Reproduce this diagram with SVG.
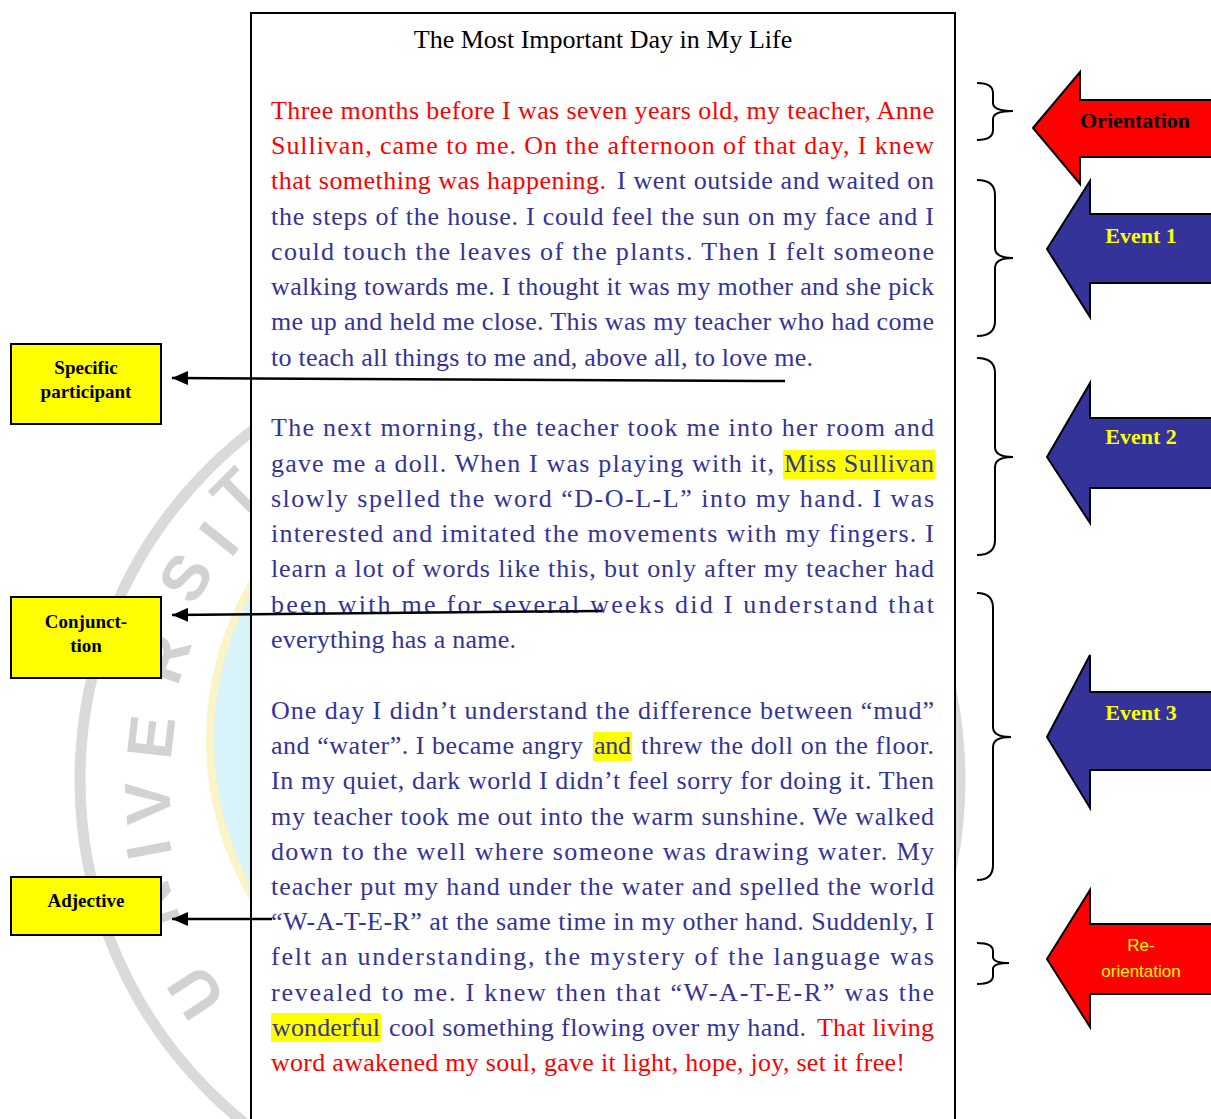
<svg xmlns="http://www.w3.org/2000/svg" width="1211" height="1119" viewBox="0 0 1211 1119">
<defs>
<style>
.body{font-family:"Liberation Serif","Times New Roman",serif;font-size:26px;}
.r{fill:#FF0000;}
.b{fill:#333399;}
.hl{fill:#FFFF00;}
.lbl{font-family:"Liberation Serif","Times New Roman",serif;font-size:19px;font-weight:bold;fill:#000;text-anchor:middle;}
.box{fill:#FFFF00;stroke:#000;stroke-width:2;}
.conn{stroke:#000;stroke-width:2.5;fill:none;}
.brace{stroke:#000;stroke-width:2;fill:none;}
.blk{stroke:#000;stroke-width:2;stroke-linejoin:miter;}
.tag{font-family:"Liberation Serif","Times New Roman",serif;font-size:22px;font-weight:bold;text-anchor:middle;}
.wm{font-family:"Liberation Sans",Arial,sans-serif;font-size:64px;font-weight:bold;fill:#d2d2d2;text-anchor:middle;}
</style>
<marker id="ah" viewBox="0 0 16 14" refX="16" refY="7" markerWidth="16" markerHeight="14" markerUnits="userSpaceOnUse" orient="auto">
<path d="M0,0 L16,7 L0,14 Z" fill="#000"/>
</marker>
</defs>
<rect width="1211" height="1119" fill="#fff"/>

<g id="watermark">
<circle cx="520" cy="740" r="310" fill="#d9f3fb" stroke="#fbf4c6" stroke-width="8"/>
<circle cx="520" cy="780" r="440" fill="none" stroke="#dadada" stroke-width="11"/>
<g class="wm">
<text transform="translate(195,993) rotate(-123.2)" y="23">U</text>
<text transform="translate(152,906) rotate(-108.9)" y="23">N</text>
<text transform="translate(148,850) rotate(-100.7)" y="23">I</text>
<text transform="translate(147,803) rotate(-93.5)" y="23">V</text>
<text transform="translate(150,737) rotate(-83.4)" y="23">E</text>
<text transform="translate(163,658) rotate(-71.1)" y="23">R</text>
<text transform="translate(185,577) rotate(-58.8)" y="23">S</text>
<text transform="translate(218,538) rotate(-51.3)" y="23">I</text>
<text transform="translate(236,493) rotate(-45.1)" y="23">T</text>
</g>
</g>

<g id="page">
<rect x="251" y="13" width="704" height="1120" fill="#fff" stroke="#000" stroke-width="2"/>
<text x="603" y="48" text-anchor="middle" font-family="Liberation Serif, Times New Roman, serif" font-size="26" fill="#000">The Most Important Day in My Life</text>

<rect class="hl" x="783" y="450" width="152" height="29"/>
<rect class="hl" x="593" y="732" width="39" height="29"/>
<rect class="hl" x="271" y="1013" width="110" height="29"/>

<g class="body">
<text class="r" x="271" y="119" textLength="663" lengthAdjust="spacing">Three months before I was seven years old, my teacher, Anne</text>
<text class="r" x="271" y="154" textLength="663" lengthAdjust="spacing">Sullivan, came to me. On the afternoon of that day, I knew</text>
<text class="r" x="271" y="189" textLength="335" lengthAdjust="spacing">that something was happening.</text>
<text class="b" x="617" y="189" textLength="317" lengthAdjust="spacing">I went outside and waited on</text>
<text class="b" x="271" y="225" textLength="663" lengthAdjust="spacing">the steps of the house. I could feel the sun on my face and I</text>
<text class="b" x="271" y="260" textLength="663" lengthAdjust="spacing">could touch the leaves of the plants. Then I felt someone</text>
<text class="b" x="271" y="295" textLength="663" lengthAdjust="spacing">walking towards me. I thought it was my mother and she pick</text>
<text class="b" x="271" y="330" textLength="663" lengthAdjust="spacing">me up and held me close. This was my teacher who had come</text>
<text class="b" x="271" y="366" textLength="542" lengthAdjust="spacing">to teach all things to me and, above all, to love me.</text>

<text class="b" x="271" y="436" textLength="663" lengthAdjust="spacing">The next morning, the teacher took me into her room and</text>
<text class="b" x="271" y="472" textLength="503" lengthAdjust="spacing">gave me a doll. When I was playing with it,</text>
<text class="b" x="784" y="472" textLength="150" lengthAdjust="spacing">Miss Sullivan</text>
<text class="b" x="271" y="507" textLength="663" lengthAdjust="spacing">slowly spelled the word “D-O-L-L” into my hand. I was</text>
<text class="b" x="271" y="542" textLength="663" lengthAdjust="spacing">interested and imitated the movements with my fingers. I</text>
<text class="b" x="271" y="577" textLength="663" lengthAdjust="spacing">learn a lot of words like this, but only after my teacher had</text>
<text class="b" x="271" y="613" textLength="663" lengthAdjust="spacing">been with me for several weeks did I understand that</text>
<text class="b" x="271" y="648" textLength="245" lengthAdjust="spacing">everything has a name.</text>

<text class="b" x="271" y="719" textLength="663" lengthAdjust="spacing">One day I didn’t understand the difference between “mud”</text>
<text class="b" x="271" y="754" textLength="312" lengthAdjust="spacing">and “water”. I became angry</text>
<text class="b" x="594" y="754" textLength="37" lengthAdjust="spacing">and</text>
<text class="b" x="641" y="754" textLength="293" lengthAdjust="spacing">threw the doll on the floor.</text>
<text class="b" x="271" y="789" textLength="663" lengthAdjust="spacing">In my quiet, dark world I didn’t feel sorry for doing it. Then</text>
<text class="b" x="271" y="825" textLength="663" lengthAdjust="spacing">my teacher took me out into the warm sunshine. We walked</text>
<text class="b" x="271" y="860" textLength="663" lengthAdjust="spacing">down to the well where someone was drawing water. My</text>
<text class="b" x="271" y="895" textLength="663" lengthAdjust="spacing">teacher put my hand under the water and spelled the world</text>
<text class="b" x="271" y="930" textLength="663" lengthAdjust="spacing">“W-A-T-E-R” at the same time in my other hand. Suddenly, I</text>
<text class="b" x="271" y="965" textLength="663" lengthAdjust="spacing">felt an understanding, the mystery of the language was</text>
<text class="b" x="271" y="1001" textLength="663" lengthAdjust="spacing">revealed to me. I knew then that “W-A-T-E-R” was the</text>
<text class="b" x="272" y="1036" textLength="108" lengthAdjust="spacing">wonderful</text>
<text class="b" x="389" y="1036" textLength="417" lengthAdjust="spacing">cool something flowing over my hand.</text>
<text class="r" x="817" y="1036" textLength="117" lengthAdjust="spacing">That living</text>
<text class="r" x="271" y="1071" textLength="634" lengthAdjust="spacing">word awakened my soul, gave it light, hope, joy, set it free!</text>
</g>
</g>

<g id="node-specific-participant">
<rect class="box" x="11" y="344" width="150" height="80"/>
<text class="lbl" x="86" y="374">Specific</text>
<text class="lbl" x="86" y="398">participant</text>
</g>
<g id="node-conjunction">
<rect class="box" x="11" y="597" width="150" height="81"/>
<text class="lbl" x="86" y="628">Conjunct-</text>
<text class="lbl" x="86" y="652">tion</text>
</g>
<g id="node-adjective">
<rect class="box" x="11" y="877" width="150" height="58"/>
<text class="lbl" x="86" y="907">Adjective</text>
</g>

<g id="node-orientation">
<polygon class="blk" fill="#FF0000" points="1033,128 1080,72 1080,100 1215,100 1215,157 1080,157 1080,184"/>
<text class="tag" x="1135" y="128" fill="#000">Orientation</text>
</g>
<g id="node-event1">
<polygon class="blk" fill="#333399" points="1047,249 1090,181 1090,214 1215,214 1215,283 1090,283 1090,317"/>
<text class="tag" x="1141" y="243" fill="#FFFF00">Event 1</text>
</g>
<g id="node-event2">
<polygon class="blk" fill="#333399" points="1047,457 1090,383 1090,418 1215,418 1215,488 1090,488 1090,523"/>
<text class="tag" x="1141" y="444" fill="#FFFF00">Event 2</text>
</g>
<g id="node-event3">
<polygon class="blk" fill="#333399" points="1047,737 1090,655 1090,692 1215,692 1215,770 1090,770 1090,808"/>
<text class="tag" x="1141" y="720" fill="#FFFF00">Event 3</text>
</g>
<g id="node-reorientation">
<polygon class="blk" fill="#FF0000" points="1047,959 1090,890 1090,924 1215,924 1215,994 1090,994 1090,1027"/>
<text x="1141" y="951" text-anchor="middle" font-family="Liberation Sans, Arial, sans-serif" font-size="17" fill="#FFFF00">Re-</text>
<text x="1141" y="977" text-anchor="middle" font-family="Liberation Sans, Arial, sans-serif" font-size="17" fill="#FFFF00">orientation</text>
</g>

<g id="connectors">
<line class="conn" x1="785" y1="381" x2="172" y2="378" marker-end="url(#ah)"/>
<line class="conn" x1="602" y1="611" x2="172" y2="615" marker-end="url(#ah)"/>
<line class="conn" x1="272" y1="919" x2="172" y2="919" marker-end="url(#ah)"/>
<path class="brace" d="M977,83 Q993,83 993,93 L993,103 Q993,111 1013,111 Q993,111 993,119 L993,130 Q993,140 977,140"/>
<path class="brace" d="M977,180 Q995,180 995,195 L995,248 Q995,258 1013,258 Q995,258 995,268 L995,321 Q995,336 977,336"/>
<path class="brace" d="M977,358 Q995,358 995,373 L995,447 Q995,457 1013,457 Q995,457 995,467 L995,540 Q995,555 977,555"/>
<path class="brace" d="M977,593 Q993,593 993,608 L993,727 Q993,737 1011,737 Q993,737 993,747 L993,865 Q993,880 977,880"/>
<path class="brace" d="M977,943 Q993,943 993,951 L993,957 Q993,963 1009,963 Q993,963 993,969 L993,976 Q993,984 977,984"/>
</g>
</svg>
